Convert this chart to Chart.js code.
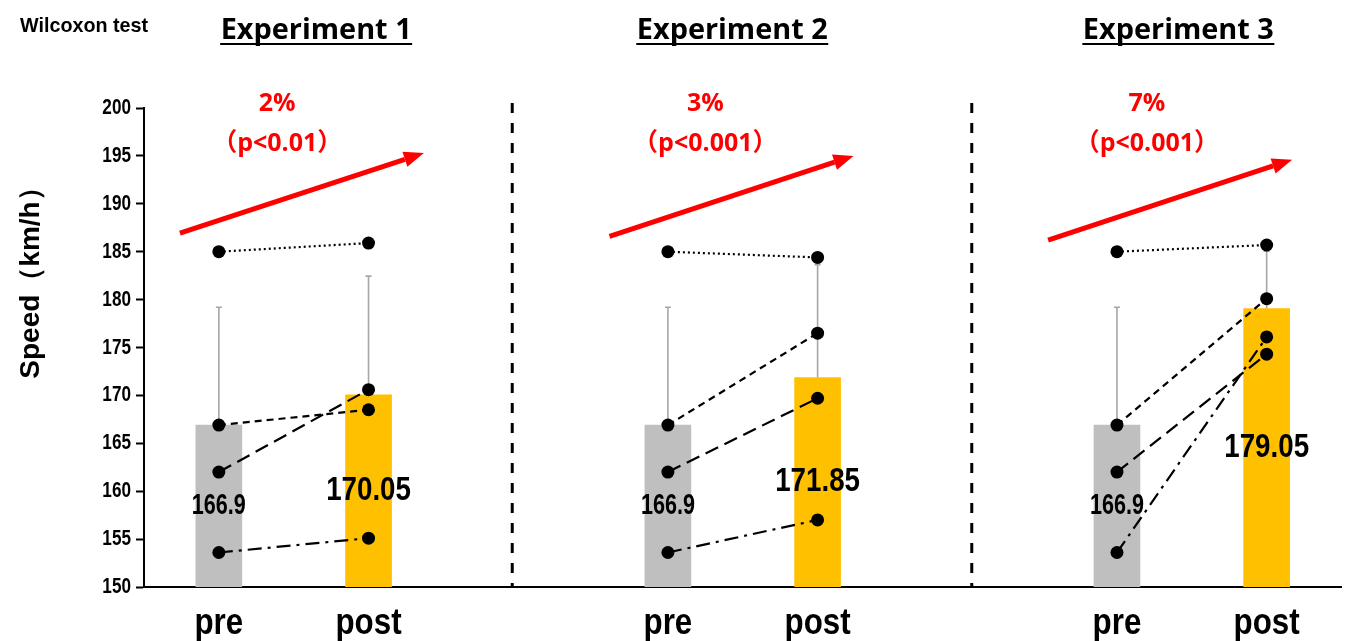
<!DOCTYPE html>
<html>
<head>
<meta charset="utf-8">
<script src="https://cdn.jsdelivr.net/npm/chart.js@4.4.1/dist/chart.umd.min.js"></script>
<style>
  html, body { margin: 0; padding: 0; background: #fff; }
  #wrap { width: 1348px; height: 641px; }
</style>
</head>
<body>
<div id="wrap"><canvas id="speedChart" width="1348" height="641"></canvas></div>
<script>
// Data (km/h)
const categories = ['pre', 'post', '', 'pre', 'post', '', 'pre', 'post'];
const meanSpeed = [166.9, 170.05, null, 166.9, 171.85, null, 166.9, 179.05];
const meanLabels = ['166.9', '170.05', '', '166.9', '171.85', '', '166.9', '179.05'];
const sdSpeed = [12.3, 12.4, null, 12.3, 11.8, null, 12.3, 6.0];
const subjectA = [185.0, 185.9, null, 185.0, 184.4, null, 185.0, 185.7];
const subjectB = [166.9, 168.5, null, 166.9, 176.5, null, 166.9, 180.1];
const subjectC = [162.0, 170.6, null, 162.0, 169.7, null, 162.0, 174.3];
const subjectD = [153.6, 155.1, null, 153.6, 157.0, null, 153.6, 176.1];
const yTicks = [150, 155, 160, 165, 170, 175, 180, 185, 190, 195, 200];
const experimentTitles = ['Experiment 1', 'Experiment 2', 'Experiment 3'];
const changeLabels = ['2%', '3%', '7%'];
const pLabels = ['（p<0.01）', '（p<0.001）', '（p<0.001）'];

const SANS = "'Liberation Sans', Arial, sans-serif";
const ROUND = "'Open Sans', 'Noto Sans', 'Noto Sans CJK JP', sans-serif";

// draw text squeezed horizontally (the figure uses a narrow font)
function drawText(ctx, text, x, y, font, color, sx, align, baseline) {
    ctx.save();
    ctx.font = font;
    ctx.fillStyle = color;
    ctx.textAlign = align || 'center';
    ctx.textBaseline = baseline || 'alphabetic';
    ctx.translate(x, y);
    ctx.scale(sx || 1, 1);
    ctx.fillText(text, 0, 0);
    ctx.restore();
}

function drawArrow(ctx, x0, y0, x1, y1) {
    const ang = Math.atan2(y1 - y0, x1 - x0);
    const head = 20, half = 8;
    const bx = x1 - head * Math.cos(ang), by = y1 - head * Math.sin(ang);
    ctx.save();
    ctx.strokeStyle = '#ff0000';
    ctx.fillStyle = '#ff0000';
    ctx.lineWidth = 5;
    ctx.beginPath();
    ctx.moveTo(x0, y0);
    ctx.lineTo(bx, by);
    ctx.stroke();
    ctx.beginPath();
    ctx.moveTo(x1, y1);
    ctx.lineTo(bx + half * Math.sin(ang), by - half * Math.cos(ang));
    ctx.lineTo(bx - half * Math.sin(ang), by + half * Math.cos(ang));
    ctx.closePath();
    ctx.fill();
    ctx.restore();
}

let labelsDone = false;

function drawBarLabels(chart) {
    const { ctx, scales: { x, y } } = chart;
    meanSpeed.forEach((m, i) => {
        if (m === null) return;
        const px = x.getPixelForValue(i);
        const cy = (y.getPixelForValue(m) + y.getPixelForValue(y.min)) / 2;
        const isPre = categories[i] === 'pre';
        const font = 'bold ' + (isPre ? 30 : 33) + 'px ' + SANS;
        drawText(ctx, meanLabels[i], px, cy, font, '#000', isPre ? 0.72 : 0.84, 'center', 'middle');
    });
    labelsDone = true;
}

const overlayPlugin = {
    id: 'overlay',
    beforeDatasetsDraw(chart) {
        labelsDone = false;
        // error bars (upper only)
        const { ctx, scales: { x, y } } = chart;
        ctx.save();
        ctx.strokeStyle = '#a6a6a6';
        ctx.lineWidth = 1.6;
        meanSpeed.forEach((m, i) => {
            if (m === null) return;
            const px = x.getPixelForValue(i);
            const base = y.getPixelForValue(m);
            const top = y.getPixelForValue(m + sdSpeed[i]);
            ctx.beginPath();
            ctx.moveTo(px, base);
            ctx.lineTo(px, top);
            ctx.moveTo(px - 3, top);
            ctx.lineTo(px + 3, top);
            ctx.stroke();
        });
        ctx.restore();
    },
    beforeDatasetDraw(chart, args) {
        // labels go on top of the bars but under the subject lines
        if (!labelsDone && args.index !== 0) {
            drawBarLabels(chart);
        }
    },
    afterDatasetsDraw(chart) {
        if (!labelsDone) drawBarLabels(chart);
    },
    afterDraw(chart) {
        const { ctx, scales: { x, y } } = chart;

        // y tick labels
        yTicks.forEach(v => {
            drawText(ctx, String(v), 131, y.getPixelForValue(v), 'bold 22px ' + SANS, '#000', 0.78, 'right', 'middle');
        });

        // x category labels
        categories.forEach((c, i) => {
            if (!c) return;
            drawText(ctx, c, x.getPixelForValue(i), 634, 'bold 36px ' + SANS, '#000', 0.87, 'center');
        });

        // panel separators
        ctx.save();
        ctx.strokeStyle = '#000';
        ctx.lineWidth = 3;
        ctx.setLineDash([10, 10]);
        [1.96, 5.03].forEach(v => {
            const px = x.getPixelForValue(v);
            ctx.beginPath();
            ctx.moveTo(px, 103);
            ctx.lineTo(px, y.bottom);
            ctx.stroke();
        });
        ctx.restore();

        // red arrows (category index, speed)
        const arrows = [
            [-0.26, 186.95, 1.37, 195.3],
            [2.61, 186.6, 4.24, 195.0],
            [5.54, 186.2, 7.17, 194.6]
        ];
        arrows.forEach(a => {
            drawArrow(ctx, x.getPixelForValue(a[0]), y.getPixelForValue(a[1]),
                x.getPixelForValue(a[2]), y.getPixelForValue(a[3]));
        });

        // change + p value text
        const redCenters = [0.39, 3.25, 6.2];
        redCenters.forEach((c, i) => {
            const px = x.getPixelForValue(c);
            drawText(ctx, changeLabels[i], px, 111, 'bold 25px ' + ROUND, '#ff0000', 1);
            drawText(ctx, pLabels[i], px, 151, 'bold 25px ' + ROUND, '#ff0000', 1);
        });

        // experiment titles, underlined
        const titleCenters = [0.65, 3.43, 6.41];
        titleCenters.forEach((c, i) => {
            const px = x.getPixelForValue(c);
            ctx.save();
            ctx.font = 'bold 28px ' + ROUND;
            const w = ctx.measureText(experimentTitles[i]).width;
            ctx.restore();
            drawText(ctx, experimentTitles[i], px, 39, 'bold 28px ' + ROUND, '#000', 191 / w);
            ctx.save();
            ctx.strokeStyle = '#000';
            ctx.lineWidth = 2;
            ctx.beginPath();
            ctx.moveTo(px - 96, 44);
            ctx.lineTo(px + 96, 44);
            ctx.stroke();
            ctx.restore();
        });

        // corner note
        drawText(ctx, 'Wilcoxon test', 20, 32, 'bold 21px ' + SANS, '#000', 0.94, 'left');

        // y axis title
        ctx.save();
        ctx.translate(31, 276);
        ctx.rotate(-Math.PI / 2);
        drawText(ctx, 'Speed（km/h）', 0, 0, 'bold 28px ' + SANS, '#000', 1.0, 'center', 'middle');
        ctx.restore();
    }
};

function lineSet(data, dash) {
    return {
        type: 'line',
        data: data,
        borderColor: '#000',
        borderWidth: 2.2,
        borderDash: dash,
        pointRadius: 6.5,
        pointHoverRadius: 6.5,
        pointBackgroundColor: '#000',
        pointBorderWidth: 0,
        spanGaps: false,
        order: 1
    };
}

const ctx = document.getElementById('speedChart').getContext('2d');
new Chart(ctx, {
    type: 'bar',
    data: {
        labels: categories,
        datasets: [
            {
                type: 'bar',
                data: meanSpeed,
                backgroundColor: categories.map(c => c === 'pre' ? '#bfbfbf' : '#ffc000'),
                barThickness: 46,
                borderWidth: 0,
                order: 5
            },
            lineSet(subjectA, [2, 3]),
            lineSet(subjectB, [7, 5]),
            lineSet(subjectC, [14, 7]),
            lineSet(subjectD, [14, 6, 3, 6])
        ]
    },
    options: {
        responsive: false,
        animation: false,
        layout: { padding: { top: 108, right: 4, left: 0, bottom: 0 } },
        plugins: {
            legend: { display: false },
            tooltip: { enabled: false }
        },
        scales: {
            x: {
                grid: { display: false, drawTicks: false },
                border: { display: true, color: '#000', width: 2 },
                ticks: { display: false, autoSkip: false },
                afterFit(scale) { scale.height = 54; }
            },
            y: {
                min: 150,
                max: 200,
                afterBuildTicks(scale) { scale.ticks = yTicks.map(v => ({ value: v })); },
                grid: { drawOnChartArea: false, tickLength: 8, tickWidth: 2, tickColor: '#000' },
                border: { display: true, color: '#000', width: 2 },
                ticks: { display: false },
                afterFit(scale) { scale.width = 144; }
            }
        }
    },
    plugins: [overlayPlugin]
});
</script>
</body>
</html>
